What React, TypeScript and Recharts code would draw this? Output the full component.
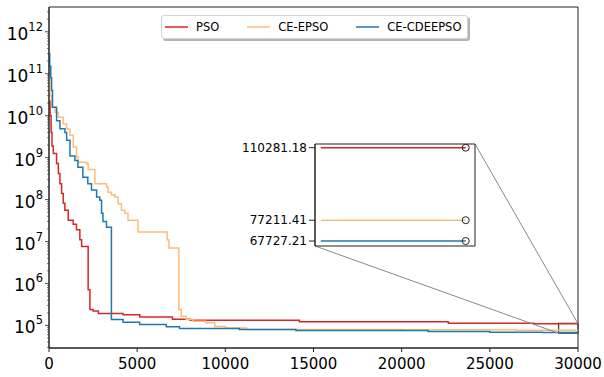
import React from 'react'
import {
  LineChart,
  Line,
  XAxis,
  YAxis,
  ReferenceArea,
} from 'recharts'

// best-so-far fitness vs. iteration
const psoIter = [0, 60, 120, 170, 245, 430, 530, 620, 715, 810, 900, 1090, 1375, 1560, 1750, 1850, 2220, 2320, 2500, 2800, 4200, 5150, 7000, 8000, 14200, 22650, 27500, 30000]
const psoBest = [2.2e10, 1.0e10, 4e9, 1.9e9, 1.25e9, 7.3e8, 4.2e8, 2.4e8, 1.4e8, 8.2e7, 5.6e7, 3.2e7, 2.6e7, 1.9e7, 1.1e7, 7.6e6, 7.1e5, 2.4e5, 2.2e5, 1.93e5, 1.8e5, 1.6e5, 1.4e5, 1.33e5, 1.22e5, 1.13e5, 110281.18, 110281.18]

const epsoIter = [0, 60, 150, 340, 530, 810, 1000, 1190, 1375, 1560, 1660, 2130, 2220, 2600, 3260, 3350, 3540, 3730, 3920, 4110, 4300, 4480, 5050, 6700, 6800, 7360, 7500, 7780, 8150, 8900, 9400, 10000, 11200, 20000, 26500, 30000]
const epsoBest = [8e10, 3e10, 1.6e10, 1.2e10, 9.2e9, 6.3e9, 4.8e9, 3.4e9, 1.8e9, 1.03e9, 7.8e8, 7.2e8, 5.2e8, 2.4e8, 2e8, 1.5e8, 1.3e8, 1.15e8, 8e7, 5.6e7, 4.7e7, 3.2e7, 1.7e7, 1.1e7, 7e6, 2.4e5, 1.66e5, 1.39e5, 1.26e5, 1.16e5, 9.5e4, 8.7e4, 8.0e4, 7.9e4, 77211.41, 77211.41]

const cdeIter = [0, 40, 100, 150, 200, 430, 620, 900, 1000, 1190, 1470, 1640, 1920, 2200, 2410, 2700, 2880, 2980, 3060, 3260, 3540, 4200, 5140, 6650, 7400, 10800, 14000, 21500, 25000, 28000, 30000]
const cdeBest = [3e11, 1.5e11, 8e10, 4e10, 1.6e10, 7.6e9, 4.9e9, 4e9, 2.6e9, 1.1e9, 8.5e8, 5.9e8, 3.4e8, 2.4e8, 1.7e8, 1.15e8, 9.7e7, 4.7e7, 3e7, 2.2e7, 1.39e5, 1.2e5, 1.05e5, 9.3e4, 8.5e4, 8e4, 7.6e4, 7.2e4, 6.9e4, 67727.21, 67727.21]

const xTicks = [0, 5000, 10000, 15000, 20000, 25000, 30000]
const yDomain = [2.9e4, 3.9e12]
const zoomX = [28900, 30000]
const zoomY = [65450, 111970]
const insetX = [28960, 30064]
const insetStart = 29000
const finalValues = [110281.18, 77211.41, 67727.21]

const FONT = 'DejaVu Sans'

const series = [
  { name: 'PSO', color: '#d62728', iter: psoIter, best: psoBest },
  { name: 'CE-EPSO', color: '#ffbb78', iter: epsoIter, best: epsoBest },
  { name: 'CE-CDEEPSO', color: '#1f77b4', iter: cdeIter, best: cdeBest },
]

const toPoints = (iter: number[], best: number[]) => iter.map((x, i) => ({ x, y: best[i] }))

// value carried at insetStart, then whatever changes after it
const insetPoints = (iter: number[], best: number[]) => {
  let start = best[0]
  iter.forEach((x, i) => {
    if (x <= insetStart) start = best[i]
  })
  const rest = iter
    .map((x, i) => ({ x, y: best[i] }))
    .filter((p) => p.x > insetStart)
  return [{ x: insetStart, y: start }, ...rest]
}

// log ticks: majors 1e5..1e12, minors 2..9 in each decade
const yTicks: number[] = []
for (let e = 4; e <= 12; e++) {
  for (let m = 1; m <= 9; m++) {
    const v = m * Math.pow(10, e)
    if (v >= yDomain[0] && v <= yDomain[1]) yTicks.push(v)
  }
}

const LogTick = (props: any) => {
  const { x, y, payload } = props
  const v = payload.value
  const exp = Math.log10(v)
  const major = Math.abs(exp - Math.round(exp)) < 1e-9
  const axisX = x + 7
  if (!major) {
    return <line x1={axisX - 2} x2={axisX} y1={y} y2={y} stroke="#222" strokeWidth={0.6} />
  }
  return (
    <g>
      <line x1={axisX - 4} x2={axisX} y1={y} y2={y} stroke="#222" strokeWidth={0.8} />
      <text x={x + 1} y={y + 8} textAnchor="end" fontFamily={FONT} fontSize={17} fill="#000">
        <tspan>10</tspan>
        <tspan dy={-9} fontSize={11.5}>{Math.round(exp)}</tspan>
      </text>
    </g>
  )
}

const LegendBox = () => (
  <div
    style={{
      position: 'absolute',
      left: 161,
      top: 15,
      display: 'flex',
      alignItems: 'center',
      height: 22,
      padding: '0 6px 0 3px',
      border: '1px solid #d4d4d4',
      borderRadius: 3,
      background: 'rgba(255,255,255,0.9)',
      boxShadow: '2px 2px 0 rgba(0,0,0,0.3)',
      fontFamily: FONT,
      fontSize: 11.5,
      color: '#000',
    }}
  >
    {series.map((s, i) => (
      <div key={s.name} style={{ display: 'flex', alignItems: 'center', marginLeft: i === 0 ? 0 : 28 }}>
        <svg width={23} height={6} style={{ marginRight: 8 }}>
          <line x1={0} x2={23} y1={3} y2={3} stroke={s.color} strokeWidth={1.5} />
        </svg>
        <span>{s.name}</span>
      </div>
    ))}
  </div>
)

const EndDot = (props: any) => {
  const { cx, cy, index, points } = props
  if (points && index !== points.length - 1) return <g key={index} />
  return <circle key={index} cx={cx} cy={cy} r={3.5} fill="none" stroke="#222" strokeWidth={1} />
}

export default function App() {
  return (
    <div style={{ position: 'absolute', left: 0, top: 0, width: 604, height: 377, background: '#fff' }}>
      <LineChart width={604} height={377} margin={{ top: 7, right: 26, bottom: 0, left: 0 }}>
        <XAxis
          type="number"
          dataKey="x"
          domain={[0, 30000]}
          ticks={xTicks}
          allowDataOverflow
          height={29}
          tickSize={4}
          tickMargin={6}
          stroke="#222"
          tick={{ fontFamily: FONT, fontSize: 15, fill: '#000' }}
        />
        <YAxis
          type="number"
          scale="log"
          domain={yDomain}
          allowDataOverflow
          ticks={yTicks}
          interval={0}
          width={49}
          tickSize={4}
          tickMargin={3}
          tickLine={false}
          stroke="#222"
          tick={<LogTick />}
        />
        <ReferenceArea x1={0} x2={30000} y1={yDomain[0]} y2={yDomain[1]} fill="none" stroke="#222" strokeWidth={1} ifOverflow="visible" />
        {series.map((s) => (
          <Line
            key={s.name}
            name={s.name}
            data={toPoints(s.iter, s.best)}
            dataKey="y"
            type="stepAfter"
            stroke={s.color}
            strokeWidth={1.5}
            dot={false}
            isAnimationActive={false}
          />
        ))}
        <ReferenceArea
          x1={zoomX[0]}
          x2={zoomX[1]}
          y1={zoomY[0]}
          y2={zoomY[1]}
          fill="none"
          stroke="#3a3a3a"
          strokeWidth={1.2}
          ifOverflow="visible"
        />
      </LineChart>

      <LegendBox />

      {/* connector lines between zoom box and inset */}
      <svg width={604} height={377} style={{ position: 'absolute', left: 0, top: 0, pointerEvents: 'none' }}>
        <line x1={475} y1={144} x2={578} y2={323.6} stroke="#888" strokeWidth={1} />
        <line x1={315} y1={246} x2={559} y2={333.4} stroke="#888" strokeWidth={1} />
      </svg>

      <div style={{ position: 'absolute', left: 230, top: 130 }}>
        <LineChart width={250} height={120} margin={{ top: 14, right: 5, bottom: 4, left: 0 }}>
          <XAxis type="number" dataKey="x" domain={insetX} allowDataOverflow hide />
          <YAxis
            type="number"
            domain={zoomY}
            allowDataOverflow
            ticks={finalValues}
            interval={0}
            width={85}
            tickSize={6}
            tickMargin={2}
            stroke="#222"
            tickFormatter={(v: number) => v.toFixed(2)}
            tick={{ fontFamily: FONT, fontSize: 12, fill: '#000' }}
          />
          <ReferenceArea x1={insetX[0]} x2={insetX[1]} y1={zoomY[0]} y2={zoomY[1]} fill="#fff" stroke="#222" strokeWidth={1} ifOverflow="visible" />
          {series.map((s) => (
            <Line
              key={s.name}
              data={insetPoints(s.iter, s.best)}
              dataKey="y"
              type="stepAfter"
              stroke={s.color}
              strokeWidth={1.5}
              dot={<EndDot />}
              isAnimationActive={false}
            />
          ))}
        </LineChart>
      </div>
    </div>
  )
}
